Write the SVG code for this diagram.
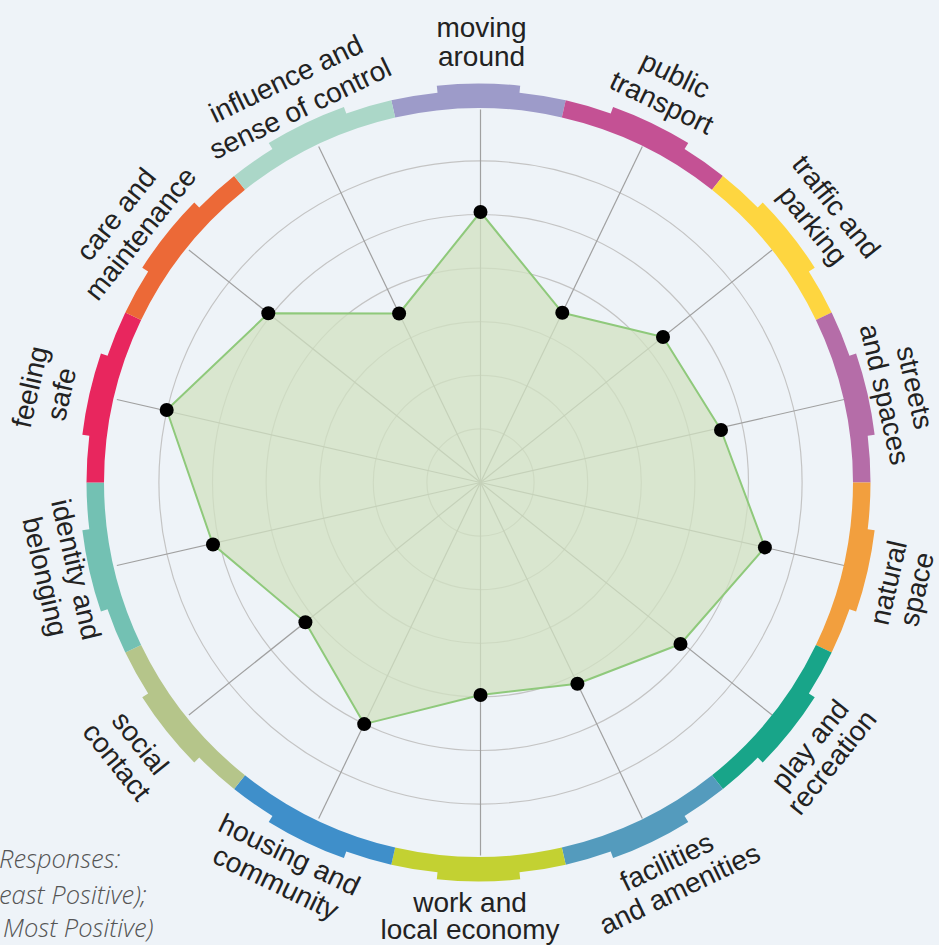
<svg xmlns="http://www.w3.org/2000/svg" width="939" height="945" viewBox="0 0 939 945">
<style>
.lbl{font-family:"Liberation Sans",Arial,sans-serif;font-size:28px;fill:#222;text-anchor:middle}
.grid{fill:none;stroke:#c4c4c4;stroke-width:1.2}
.axis{stroke:#a0a0a0;stroke-width:1.2}
.dot{fill:#000}
.note{font-family:"Open Sans",sans-serif;font-style:italic;font-weight:300;font-size:25.5px;fill:#555}
</style>
<defs>
<path id="seg" d="M395.17,117.39 L391.27,100.33 A392,392 0 0 1 437.53,92.65 L436.79,85.69 A399,399 0 0 1 520.21,85.69 L519.48,92.65 A392,392 0 0 1 565.73,100.33 L561.83,117.39 A374.5,374.5 0 0 0 395.17,117.39 Z"/>
</defs>
<rect width="939" height="945" fill="#eef3f8"/>
<g id="grid">
<circle class="grid" cx="480.5" cy="482.5" r="53.6"/>
<circle class="grid" cx="480.5" cy="482.5" r="107.2"/>
<circle class="grid" cx="480.5" cy="482.5" r="160.8"/>
<circle class="grid" cx="480.5" cy="482.5" r="214.4"/>
<circle class="grid" cx="480.5" cy="482.5" r="268"/>
<circle class="grid" cx="480.5" cy="482.5" r="321.6"/>
</g>
<g id="connectors">
<line class="axis" x1="480.5" y1="482.5" x2="480.5" y2="109.5"/>
<line class="axis" x1="480.5" y1="482.5" x2="642.34" y2="146.44"/>
<line class="axis" x1="480.5" y1="482.5" x2="772.12" y2="249.94"/>
<line class="axis" x1="480.5" y1="482.5" x2="844.15" y2="399.5"/>
<line class="axis" x1="480.5" y1="482.5" x2="844.15" y2="565.5"/>
<line class="axis" x1="480.5" y1="482.5" x2="772.12" y2="715.06"/>
<line class="axis" x1="480.5" y1="482.5" x2="642.34" y2="818.56"/>
<line class="axis" x1="480.5" y1="482.5" x2="480.5" y2="855.5"/>
<line class="axis" x1="480.5" y1="482.5" x2="318.66" y2="818.56"/>
<line class="axis" x1="480.5" y1="482.5" x2="188.88" y2="715.06"/>
<line class="axis" x1="480.5" y1="482.5" x2="116.85" y2="565.5"/>
<line class="axis" x1="480.5" y1="482.5" x2="116.85" y2="399.5"/>
<line class="axis" x1="480.5" y1="482.5" x2="188.88" y2="249.94"/>
<line class="axis" x1="480.5" y1="482.5" x2="318.66" y2="146.44"/>
</g>
<g id="data">
<polygon points="480.5,212 562.3,312.7 663,337 721,430 764.9,547.4 680.5,644 577.4,683.8 480.5,695 364.2,724.1 305.4,622.2 213,544.5 166.7,410 268.3,313.3 399.1,313.5" fill="#d1e1c2" fill-opacity="0.75" stroke="#8fc97b" stroke-width="2" stroke-linejoin="round"/>
<circle class="dot" cx="480.5" cy="212" r="7"/>
<circle class="dot" cx="562.3" cy="312.7" r="7"/>
<circle class="dot" cx="663" cy="337" r="7"/>
<circle class="dot" cx="721" cy="430" r="7"/>
<circle class="dot" cx="764.9" cy="547.4" r="7"/>
<circle class="dot" cx="680.5" cy="644" r="7"/>
<circle class="dot" cx="577.4" cy="683.8" r="7"/>
<circle class="dot" cx="480.5" cy="695" r="7"/>
<circle class="dot" cx="364.2" cy="724.1" r="7"/>
<circle class="dot" cx="305.4" cy="622.2" r="7"/>
<circle class="dot" cx="213" cy="544.5" r="7"/>
<circle class="dot" cx="166.7" cy="410" r="7"/>
<circle class="dot" cx="268.3" cy="313.3" r="7"/>
<circle class="dot" cx="399.1" cy="313.5" r="7"/>
</g>
<g id="cat-moving-around">
<use href="#seg" fill="#9d9bc9"/>
<text class="lbl" transform="translate(481.5 41.7)"><tspan x="0" y="-4.35">moving</tspan><tspan x="0" y="24.35">around</tspan></text>
</g>
<g id="cat-public-transport">
<use href="#seg" fill="#c45194" transform="rotate(25.714 478.5 482.5)"/>
<text class="lbl" transform="translate(668.7 88.3) rotate(25.714)"><tspan x="0" y="-5.5">public</tspan><tspan x="0" y="25.5">transport</tspan></text>
</g>
<g id="cat-traffic-and-parking">
<use href="#seg" fill="#fed640" transform="rotate(51.429 478.5 482.5)"/>
<text class="lbl" transform="translate(825 215.7) rotate(51.429)"><tspan x="0" y="-5">traffic and</tspan><tspan x="0" y="25">parking</tspan></text>
</g>
<g id="cat-streets-and-spaces">
<use href="#seg" fill="#b56da8" transform="rotate(77.143 478.5 482.5)"/>
<text class="lbl" transform="translate(900.3 390.8) rotate(77.143)"><tspan x="0" y="-5.5">streets</tspan><tspan x="0" y="25.5">and spaces</tspan></text>
</g>
<g id="cat-natural-space">
<use href="#seg" fill="#f29f3e" transform="rotate(102.857 478.5 482.5)"/>
<text class="lbl" transform="translate(902 585.8) rotate(-77.143)"><tspan x="0" y="-4.5">natural</tspan><tspan x="0" y="24.5">space</tspan></text>
</g>
<g id="cat-play-and-recreation">
<use href="#seg" fill="#18a589" transform="rotate(128.571 478.5 482.5)"/>
<text class="lbl" transform="translate(820.3 753.2) rotate(-51.429)"><tspan x="0" y="-4">play and</tspan><tspan x="0" y="24">recreation</tspan></text>
</g>
<g id="cat-facilities-and-amenities">
<use href="#seg" fill="#549bbd" transform="rotate(154.286 478.5 482.5)"/>
<text class="lbl" transform="translate(673 875) rotate(-25.714)"><tspan x="0" y="-5">facilities</tspan><tspan x="0" y="25">and amenities</tspan></text>
</g>
<g id="cat-work-and-local-economy">
<use href="#seg" fill="#c3d132" transform="rotate(180 478.5 482.5)"/>
<text class="lbl" transform="translate(470 916)"><tspan x="0" y="-4.5">work and</tspan><tspan x="0" y="23">local economy</tspan></text>
</g>
<g id="cat-housing-and-community">
<use href="#seg" fill="#3f8fca" transform="rotate(205.714 478.5 482.5)"/>
<text class="lbl" transform="translate(282.8 868.2) rotate(25.714)"><tspan x="0" y="-5.5">housing and</tspan><tspan x="0" y="25.5">community</tspan></text>
</g>
<g id="cat-social-contact">
<use href="#seg" fill="#b5c58a" transform="rotate(231.429 478.5 482.5)"/>
<text class="lbl" transform="translate(129 752) rotate(51.429)"><tspan x="0" y="-5">social</tspan><tspan x="0" y="25">contact</tspan></text>
</g>
<g id="cat-identity-and-belonging">
<use href="#seg" fill="#73c1b3" transform="rotate(257.143 478.5 482.5)"/>
<text class="lbl" transform="translate(61 573) rotate(77.143)"><tspan x="0" y="-6">identity and</tspan><tspan x="0" y="26">belonging</tspan></text>
</g>
<g id="cat-feeling-safe">
<use href="#seg" fill="#e8265e" transform="rotate(282.857 478.5 482.5)"/>
<text class="lbl" transform="translate(45.2 390.3) rotate(-77.143)"><tspan x="0" y="-6">feeling</tspan><tspan x="0" y="26">safe</tspan></text>
</g>
<g id="cat-care-and-maintenance">
<use href="#seg" fill="#ec6937" transform="rotate(308.571 478.5 482.5)"/>
<text class="lbl" transform="translate(127.8 223.7) rotate(-51.429)"><tspan x="0" y="-5.5">care and</tspan><tspan x="0" y="25.5">maintenance</tspan></text>
</g>
<g id="cat-influence-and-sense-of-control">
<use href="#seg" fill="#abd7c8" transform="rotate(334.286 478.5 482.5)"/>
<text class="lbl" transform="translate(292.8 93.3) rotate(-25.714)"><tspan x="0" y="-6.5">influence and</tspan><tspan x="0" y="26.5">sense of control</tspan></text>
</g>
<g id="note">
<text class="note" x="-1" y="868">Responses:</text>
<text class="note" x="-1" y="904">east Positive);</text>
<text class="note" x="3" y="937">Most Positive)</text>
</g>
</svg>
